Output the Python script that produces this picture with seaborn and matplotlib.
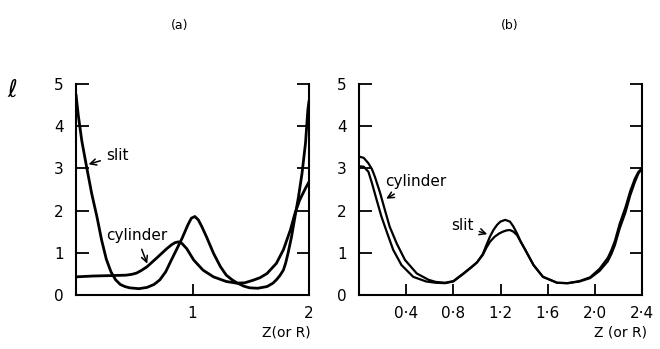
"""Density profiles in a slit and a cylinder, two pore widths."""

import matplotlib
matplotlib.use("Agg")

import matplotlib.pyplot as plt
import seaborn as sns

# ---- panel (a): pore width 2 ----
a_slit_x = [0.00, 0.02, 0.05, 0.09, 0.135, 0.18, 0.22, 0.26, 0.30, 0.34, 0.38,
            0.42, 0.46, 0.54, 0.61, 0.67, 0.72, 0.77, 0.81, 0.86, 0.91, 0.96,
            0.99, 1.02, 1.05, 1.08, 1.12, 1.18, 1.24, 1.29, 1.34, 1.38, 1.44,
            1.49, 1.56, 1.64, 1.69, 1.72, 1.75, 1.78, 1.80, 1.82, 1.85, 1.88,
            1.91, 1.94, 1.97, 1.99, 2.00]
a_slit_y = [4.75, 4.25, 3.65, 3.05, 2.40, 1.85, 1.30, 0.85, 0.55, 0.36, 0.25,
            0.20, 0.17, 0.15, 0.18, 0.25, 0.36, 0.55, 0.78, 1.06, 1.34, 1.66,
            1.82, 1.86, 1.78, 1.62, 1.38, 0.99, 0.67, 0.47, 0.36, 0.29, 0.21,
            0.17, 0.16, 0.20, 0.28, 0.36, 0.46, 0.59, 0.76, 0.99, 1.38, 1.86,
            2.33, 2.88, 3.60, 4.38, 4.60]

a_cyl_x = [0.00, 0.15, 0.30, 0.43, 0.48, 0.52, 0.56, 0.61, 0.69, 0.78, 0.82,
           0.85, 0.88, 0.91, 0.95, 1.01, 1.09, 1.18, 1.29, 1.38, 1.45, 1.52,
           1.58, 1.64, 1.72, 1.78, 1.84, 1.88, 1.92, 1.97, 2.00]
a_cyl_y = [0.43, 0.45, 0.46, 0.47, 0.49, 0.52, 0.58, 0.67, 0.87, 1.10, 1.19,
           1.24, 1.26, 1.22, 1.10, 0.83, 0.59, 0.43, 0.32, 0.28, 0.29, 0.35,
           0.41, 0.51, 0.75, 1.07, 1.54, 1.94, 2.25, 2.53, 2.68]

# ---- panel (b): pore width 2.4 ----
b_slit_x = [0.00, 0.04, 0.08, 0.11, 0.15, 0.19, 0.24, 0.29, 0.36, 0.46, 0.57,
            0.65, 0.73, 0.80, 0.885, 0.96, 1.00, 1.05, 1.08, 1.11, 1.14, 1.17,
            1.20, 1.24, 1.28, 1.31, 1.34, 1.37, 1.41, 1.48, 1.56, 1.68, 1.77,
            1.87, 1.96, 2.04, 2.11, 2.14, 2.17, 2.21, 2.26, 2.30, 2.34, 2.37,
            2.40]
b_slit_y = [3.05, 3.04, 2.92, 2.65, 2.25, 1.86, 1.46, 1.07, 0.71, 0.43, 0.32,
            0.29, 0.28, 0.32, 0.50, 0.67, 0.77, 0.97, 1.18, 1.38, 1.54, 1.66,
            1.74, 1.78, 1.74, 1.62, 1.46, 1.27, 1.07, 0.71, 0.43, 0.29, 0.28,
            0.32, 0.40, 0.57, 0.80, 0.97, 1.18, 1.57, 1.96, 2.36, 2.68, 2.88,
            3.00]

b_cyl_x = [0.00, 0.04, 0.08, 0.11, 0.135, 0.18, 0.22, 0.26, 0.32, 0.39, 0.49,
           0.59, 0.65, 0.73, 0.80, 0.885, 0.96, 1.00, 1.05, 1.08, 1.11, 1.15,
           1.19, 1.22, 1.25, 1.28, 1.31, 1.34, 1.37, 1.41, 1.48, 1.56, 1.68,
           1.77, 1.87, 1.96, 2.04, 2.11, 2.14, 2.17, 2.21, 2.26, 2.30, 2.34,
           2.37, 2.40]
b_cyl_y = [3.28, 3.25, 3.12, 2.98, 2.80, 2.41, 2.01, 1.62, 1.22, 0.83, 0.51,
           0.36, 0.31, 0.29, 0.33, 0.51, 0.68, 0.77, 0.95, 1.12, 1.26, 1.38,
           1.46, 1.50, 1.53, 1.54, 1.50, 1.42, 1.27, 1.07, 0.71, 0.43, 0.29,
           0.28, 0.33, 0.42, 0.62, 0.88, 1.06, 1.28, 1.68, 2.08, 2.46, 2.76,
           2.92, 3.00]

y_ticks = [0, 1, 2, 3, 4, 5]
a_xticks = [1, 2]
a_xlabels = ["1", "2"]
b_xticks = [0.4, 0.8, 1.2, 1.6, 2.0, 2.4]
b_xlabels = ["0·4", "0·8", "1·2", "1·6", "2·0", "2·4"]

sns.set_style("ticks")
plt.rcParams["font.family"] = ["DejaVu Sans"]
plt.rcParams["text.color"] = "black"
plt.rcParams["xtick.color"] = "black"
plt.rcParams["ytick.color"] = "black"

fig = plt.figure(figsize=(6.6, 3.49), dpi=100)
ax_a = fig.add_axes([76 / 660, 1 - 295 / 349, 233 / 660, 211 / 349])
ax_b = fig.add_axes([359 / 660, 1 - 295 / 349, 283 / 660, 211 / 349])

sns.lineplot(x=a_slit_x, y=a_slit_y, ax=ax_a, color="black", lw=2.0, estimator=None)
sns.lineplot(x=a_cyl_x, y=a_cyl_y, ax=ax_a, color="black", lw=2.0, estimator=None)
sns.lineplot(x=b_slit_x, y=b_slit_y, ax=ax_b, color="black", lw=1.6, estimator=None)
sns.lineplot(x=b_cyl_x, y=b_cyl_y, ax=ax_b, color="black", lw=1.6, estimator=None)


def style_axis(ax, xmax, xticks, xlabels):
    ax.set_xlim(0, xmax)
    ax.set_ylim(0, 5)
    ax.spines["top"].set_visible(False)
    for s in ["left", "right", "bottom"]:
        ax.spines[s].set_linewidth(1.5)
        ax.spines[s].set_color("black")
    ax.set_yticks(y_ticks)
    ax.set_xticks(xticks)
    ax.set_xticklabels(xlabels)
    ax.tick_params(axis="y", direction="in", left=True, right=True,
                   length=9, width=1.3, labelsize=11, pad=9, colors="black")
    ax.tick_params(axis="x", direction="in", bottom=True, top=False,
                   length=8, width=1.3, labelsize=11, pad=8, colors="black")
    ax.set_xlabel("")
    ax.set_ylabel("")


style_axis(ax_a, 2, a_xticks, a_xlabels)
style_axis(ax_b, 2.4, b_xticks, b_xlabels)

# curve labels with arrows
arrow = dict(arrowstyle="->", color="black", lw=1.1)
ax_a.annotate("slit", xy=(0.085, 3.08), xytext=(0.26, 3.3), fontsize=11,
              va="center", ha="left", arrowprops=arrow)
ax_a.annotate("cylinder", xy=(0.62, 0.68), xytext=(0.52, 1.4), fontsize=11,
              va="center", ha="center", arrowprops=arrow)
ax_b.annotate("cylinder", xy=(0.21, 2.25), xytext=(0.22, 2.68), fontsize=11,
              va="center", ha="left", arrowprops=arrow)
ax_b.annotate("slit", xy=(1.11, 1.42), xytext=(0.97, 1.64), fontsize=11,
              va="center", ha="right", arrowprops=arrow)

fig.text(180 / 660, 1 - 25 / 349, "(a)", ha="center", va="center", fontsize=9)
fig.text(510 / 660, 1 - 25 / 349, "(b)", ha="center", va="center", fontsize=9)
fig.text(12 / 660, 1 - 90 / 349, "ℓ", ha="center", va="center", fontsize=17,
         style="italic")
fig.text(286 / 660, 1 - 332 / 349, "Z(or R)", ha="center", va="center", fontsize=10)
fig.text(620 / 660, 1 - 332 / 349, "Z (or R)", ha="center", va="center", fontsize=10)

fig.savefig("out.png", dpi=100)
